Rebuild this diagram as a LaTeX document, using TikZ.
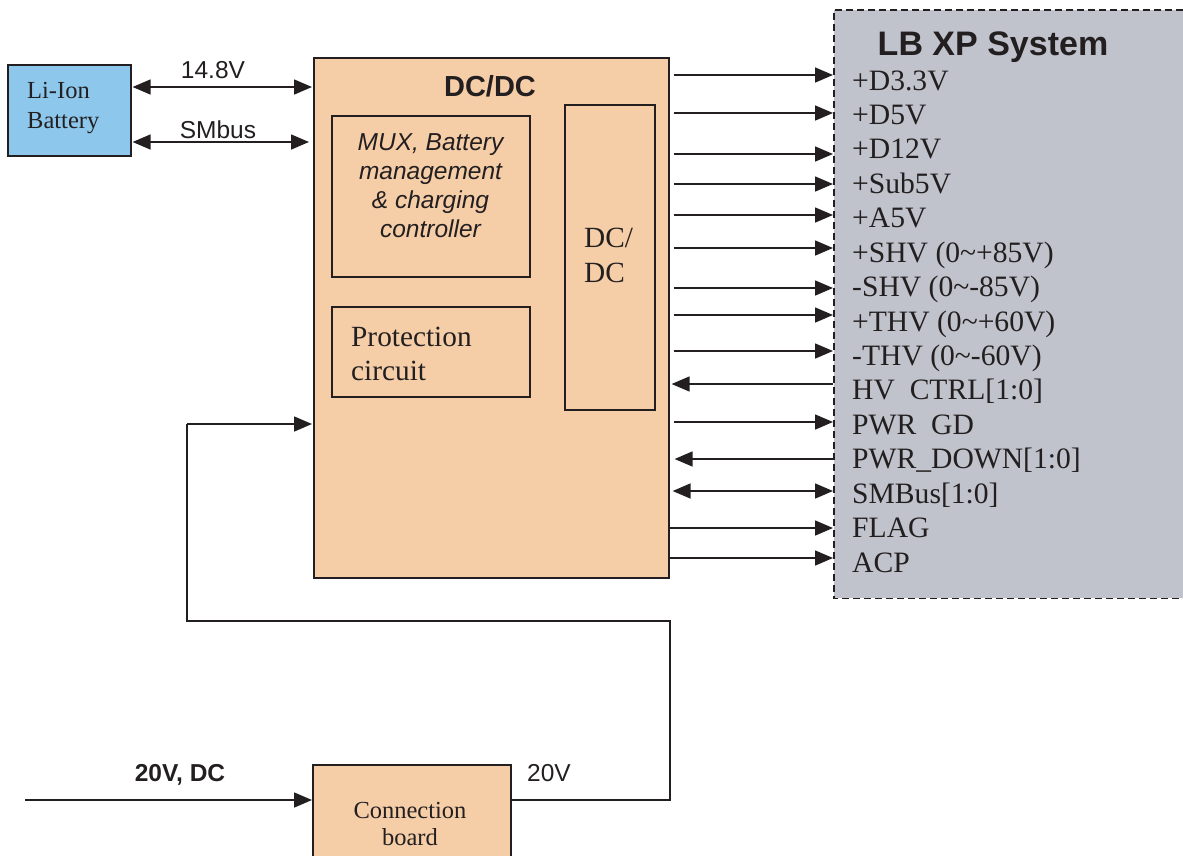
\documentclass[tikz,border=0pt]{standalone}
\usepackage{fontspec}
\setmainfont{Liberation Serif}
\setsansfont{Liberation Sans}
\usetikzlibrary{arrows.meta}
\definecolor{peach}{RGB}{245,206,168}
\definecolor{lblue}{RGB}{141,200,236}
\definecolor{lgray}{RGB}{192,195,203}
\definecolor{ink}{RGB}{35,31,32}
\tikzset{
  box/.style={draw=ink, line width=1.6pt, inner sep=0pt, anchor=north west},
  arr/.style={draw=ink, line width=1.6pt, -{Triangle[length=18pt,width=15pt]}},
  biarr/.style={draw=ink, line width=1.6pt, {Triangle[length=18pt,width=15pt]}-{Triangle[length=18pt,width=15pt]}},
  wire/.style={draw=ink, line width=1.6pt},
  txt/.style={inner sep=0pt, text=ink, anchor=base},
  sig/.style={inner sep=0pt, text=ink, anchor=base west, font=\fontsize{29.6}{34}\selectfont},
  sanslab/.style={txt, font=\sffamily\fontsize{24.5}{29}\selectfont},
  seriflab/.style={txt, font=\fontsize{24.5}{29}\selectfont},
  bigserif/.style={txt, anchor=base west, font=\fontsize{29.3}{34}\selectfont},
}
\begin{document}
\begin{tikzpicture}[x=1pt,y=-1pt]
\useasboundingbox (0,0) rectangle (1183,855);
\clip (0,0) rectangle (1183,855);

% LB XP system (right edge outside picture)
\node[anchor=north west, fill=lgray, inner sep=0pt, minimum width=360pt, minimum height=588pt] (lbxp) at (834,10) {};
\draw[draw=ink, line width=1.2pt, dash pattern=on 7pt off 4pt]
  (lbxp.north east) -- (lbxp.north west) -- (lbxp.south west) -- (lbxp.south east);
\node[txt, font=\sffamily\bfseries\fontsize{34}{40}\selectfont] (lbtitle) at (993,55) {LB XP System};

% Battery
\node[box, fill=lblue, minimum width=123pt, minimum height=91pt] (batt) at (7,64) {};
\node[seriflab, anchor=base west] (battl1) at (27,98) {Li-Ion};
\node[seriflab, anchor=base west] (battl2) at (27,128) {Battery};

% DC/DC main
\node[box, fill=peach, minimum width=355pt, minimum height=520pt] (dcdc) at (313,57) {};
\node[txt, font=\sffamily\bfseries\fontsize{29}{34}\selectfont] (dcdct) at (490,96) {DC/DC};
\node[box, minimum width=198pt, minimum height=161pt] (mux) at (331,115) {};
\node[txt, font=\sffamily\itshape\fontsize{24.5}{29}\selectfont] (mux1) at (430.5,150) {MUX, Battery};
\node[txt, font=\sffamily\itshape\fontsize{24.5}{29}\selectfont] (mux2) at (430.5,179) {management};
\node[txt, font=\sffamily\itshape\fontsize{24.5}{29}\selectfont] (mux3) at (430.5,208) {\& charging};
\node[txt, font=\sffamily\itshape\fontsize{24.5}{29}\selectfont] (mux4) at (430.5,237) {controller};
\node[box, minimum width=198pt, minimum height=90pt] (prot) at (331,306) {};
\node[bigserif] (prot1) at (351,346) {Protection};
\node[bigserif] (prot2) at (351,380) {circuit};
\node[box, minimum width=90pt, minimum height=305pt] (inner) at (564,104) {};
\node[bigserif] (inner1) at (584,247) {DC/};
\node[bigserif] (inner2) at (584,282) {DC};

% Connection board
\node[box, fill=peach, minimum width=198pt, minimum height=110pt] (conn) at (312,764) {};
\node[seriflab] (conn1) at (410,818) {Connection};
\node[seriflab] (conn2) at (410,845) {board};

% Battery links
\node[sanslab] (l148) at (213,78) {14.8V};
\node[sanslab] (lsmb) at (218,138) {SMbus};
\coordinate (yb1) at (0,87);
\coordinate (yb2) at (0,142);
\draw[biarr] ([xshift=1pt]batt.east |- yb1) -- ([xshift=-1pt]dcdc.west |- yb1);
\draw[biarr] ([xshift=1pt]batt.east |- yb2) -- ([xshift=-4pt]dcdc.west |- yb2);

% Power input
\coordinate (in1) at (25,800);
\coordinate (fb1) at (670,621);
\coordinate (fb2) at (187,424);
\node[txt, font=\sffamily\bfseries\fontsize{24.5}{29}\selectfont] (l20dc) at (180,781) {20V, DC};
\node[sanslab] (l20) at (549,781) {20V};
\draw[arr] (in1) -- (conn.west |- in1);
\draw[wire] (conn.east |- in1) -| (fb1) -| (fb2);
\draw[arr] (fb2) -- ([xshift=-1pt]dcdc.west |- fb2);

% Signal labels
\node[sig] (s1) at (852,90) {+D3.3V};
\node[sig] (s2) at (852,124.4) {+D5V};
\node[sig] (s3) at (852,158.9) {+D12V};
\node[sig] (s4) at (852,193.3) {+Sub5V};
\node[sig] (s5) at (852,227.7) {+A5V};
\node[sig] (s6) at (852,262.1) {+SHV (0\textasciitilde+85V)};
\node[sig] (s7) at (852,296.6) {-SHV (0\textasciitilde-85V)};
\node[sig] (s8) at (852,331) {+THV (0\textasciitilde+60V)};
\node[sig] (s9) at (852,365.4) {-THV (0\textasciitilde-60V)};
\node[sig] (s10) at (852,399.9) {HV\hspace{0.5em}CTRL[1:0]};
\node[sig] (s11) at (852,434.3) {PWR\hspace{0.5em}GD};
\node[sig] (s12) at (852,468.7) {PWR\_DOWN[1:0]};
\node[sig] (s13) at (852,503.1) {SMBus[1:0]};
\node[sig] (s14) at (852,537.6) {FLAG};
\node[sig] (s15) at (852,572) {ACP};

% Signal arrows
\coordinate (a1) at (0,75);
\coordinate (a2) at (0,113);
\coordinate (a3) at (0,154);
\coordinate (a4) at (0,184);
\coordinate (a5) at (0,215);
\coordinate (a6) at (0,248);
\coordinate (a7) at (0,288);
\coordinate (a8) at (0,315);
\coordinate (a9) at (0,351);
\coordinate (a10) at (0,384);
\coordinate (a11) at (0,422);
\coordinate (a12) at (0,459);
\coordinate (a13) at (0,491);
\coordinate (a14) at (0,528);
\coordinate (a15) at (0,558);
\foreach \i in {1,...,9,11} {
  \draw[arr] ([xshift=4pt]dcdc.east |- a\i) -- ([xshift=-1pt]lbxp.west |- a\i);
}
\draw[arr] ([xshift=-1pt]lbxp.west |- a10) -- ([xshift=2pt]dcdc.east |- a10);
\draw[arr] ([xshift=-1pt]lbxp.west |- a12) -- ([xshift=5pt]dcdc.east |- a12);
\draw[biarr] ([xshift=3pt]dcdc.east |- a13) -- ([xshift=-1pt]lbxp.west |- a13);
\draw[arr] (dcdc.east |- a14) -- ([xshift=-1pt]lbxp.west |- a14);
\draw[arr] (dcdc.east |- a15) -- ([xshift=-1pt]lbxp.west |- a15);
\end{tikzpicture}
\end{document}
